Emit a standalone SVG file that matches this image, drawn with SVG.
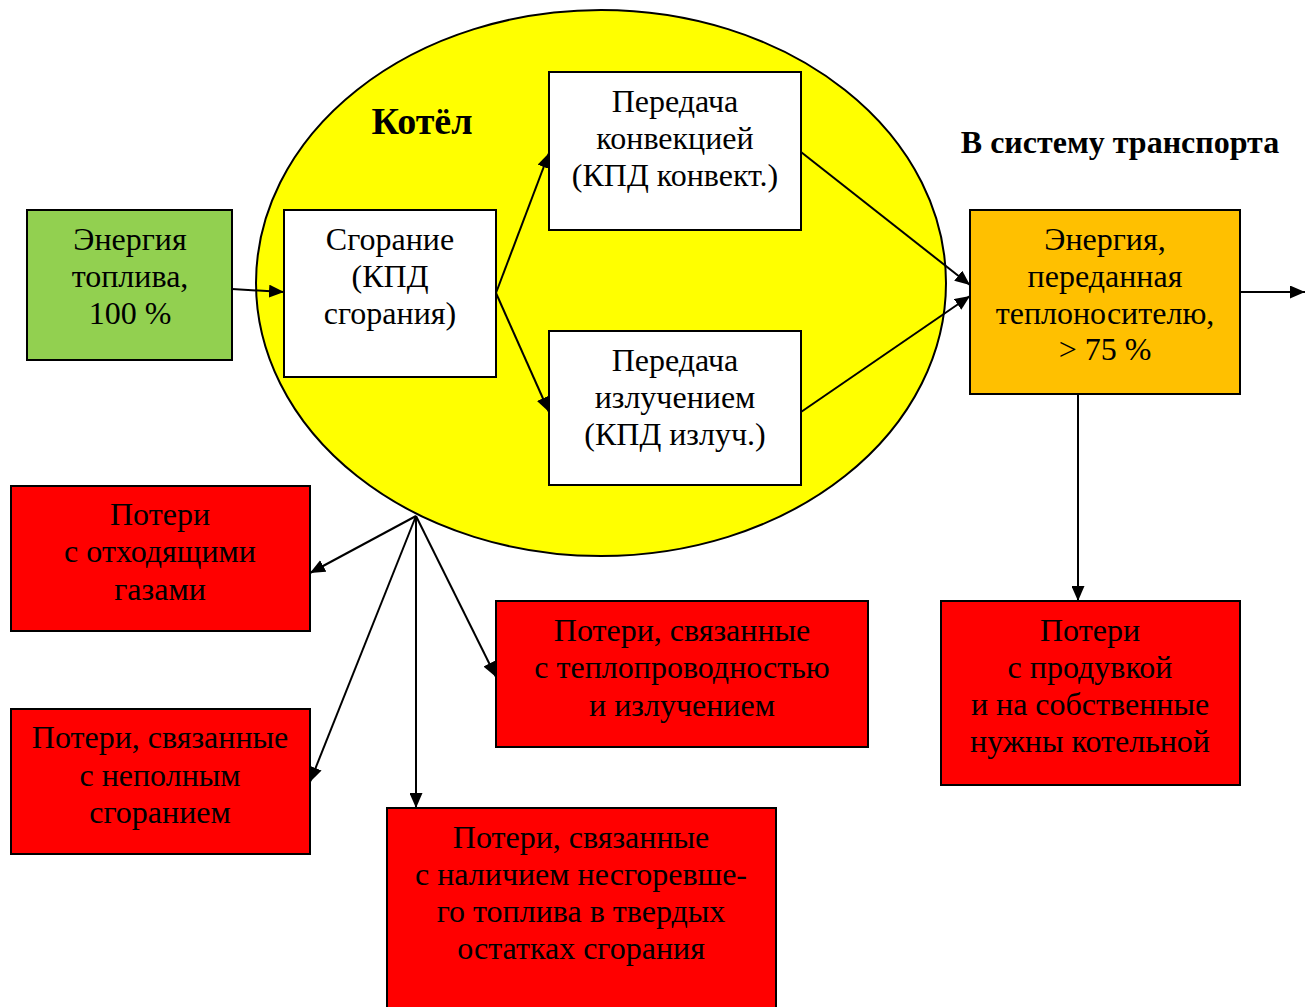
<svg xmlns="http://www.w3.org/2000/svg" width="1305" height="1007" viewBox="0 0 1305 1007">
<style>
.b{stroke:#000;stroke-width:2}
.w{fill:#fff}.g{fill:#92D050}.o{fill:#FFC000}.r{fill:#FF0000}
text{font-family:"Liberation Serif","Times New Roman",serif;font-size:32px;fill:#000;text-anchor:middle}
.h{font-weight:bold}
.k{font-size:38px}
.c{stroke:#000;stroke-width:2;fill:none;marker-end:url(#a)}
</style>
<defs>
<marker id="a" viewBox="0 0 10 10" refX="10" refY="5" markerWidth="15" markerHeight="13" markerUnits="userSpaceOnUse" orient="auto" preserveAspectRatio="none"><path d="M0,0L10,5L0,10z" fill="#000"/></marker>
</defs>
<rect width="1305" height="1007" fill="#fff"/>
<g id="boiler"><ellipse cx="601" cy="283" rx="345" ry="273" fill="#FFFF00" class="b"/><text class="h k" x="422" y="134">Котёл</text></g>
<text class="h" x="1120" y="153">В систему транспорта</text>
<g id="connectors">
<path class="c" d="M232,289L284,292"/>
<path class="c" d="M496,293L549,153"/>
<path class="c" d="M496,293L549,412"/>
<path class="c" d="M801,152L970,285"/>
<path class="c" d="M801,412L970,296"/>
<path class="c" d="M1240,292L1305,292"/>
<path class="c" d="M1078,394L1078,601"/>
<path class="c" d="M416,516L310,573"/>
<path class="c" d="M416,516L310,782"/>
<path class="c" d="M416,516L416,808"/>
<path class="c" d="M416,516L496,677"/>
</g>
<g id="fuel"><rect x="27" y="210" width="205" height="150" class="b g"/><text x="130" y="250">Энергия</text><text x="130" y="287">топлива,</text><text x="130" y="324">100 %</text></g>
<g id="combustion"><rect x="284" y="210" width="212" height="167" class="b w"/><text x="390" y="250">Сгорание</text><text x="390" y="287">(КПД</text><text x="390" y="324">сгорания)</text></g>
<g id="convection"><rect x="549" y="72" width="252" height="158" class="b w"/><text x="675" y="112">Передача</text><text x="675" y="149">конвекцией</text><text x="675" y="186">(КПД конвект.)</text></g>
<g id="radiation"><rect x="549" y="331" width="252" height="154" class="b w"/><text x="675" y="371">Передача</text><text x="675" y="408">излучением</text><text x="675" y="445">(КПД излуч.)</text></g>
<g id="carrier"><rect x="970" y="210" width="270" height="184" class="b o"/><text x="1105" y="250">Энергия,</text><text x="1105" y="287">переданная</text><text x="1105" y="324">теплоносителю,</text><text x="1105" y="360">&gt; 75 %</text></g>
<g id="flue"><rect x="11" y="486" width="299" height="145" class="b r"/><text x="160" y="525">Потери</text><text x="160" y="562">с отходящими</text><text x="160" y="600">газами</text></g>
<g id="incomplete"><rect x="11" y="709" width="299" height="145" class="b r"/><text x="160" y="748">Потери, связанные</text><text x="160" y="786">с неполным</text><text x="160" y="823">сгоранием</text></g>
<g id="conduction"><rect x="496" y="601" width="372" height="146" class="b r"/><text x="682" y="641">Потери, связанные</text><text x="682" y="678">с теплопроводностью</text><text x="682" y="716">и излучением</text></g>
<g id="unburnt"><rect x="387" y="808" width="389" height="210" class="b r"/><text x="581" y="848">Потери, связанные</text><text x="581" y="885">с наличием несгоревше-</text><text x="581" y="922">го топлива в твердых</text><text x="581" y="959">остатках сгорания</text></g>
<g id="blowdown"><rect x="941" y="601" width="299" height="184" class="b r"/><text x="1090" y="641">Потери</text><text x="1090" y="678">с продувкой</text><text x="1090" y="715">и на собственные</text><text x="1090" y="752">нужны котельной</text></g>
</svg>
